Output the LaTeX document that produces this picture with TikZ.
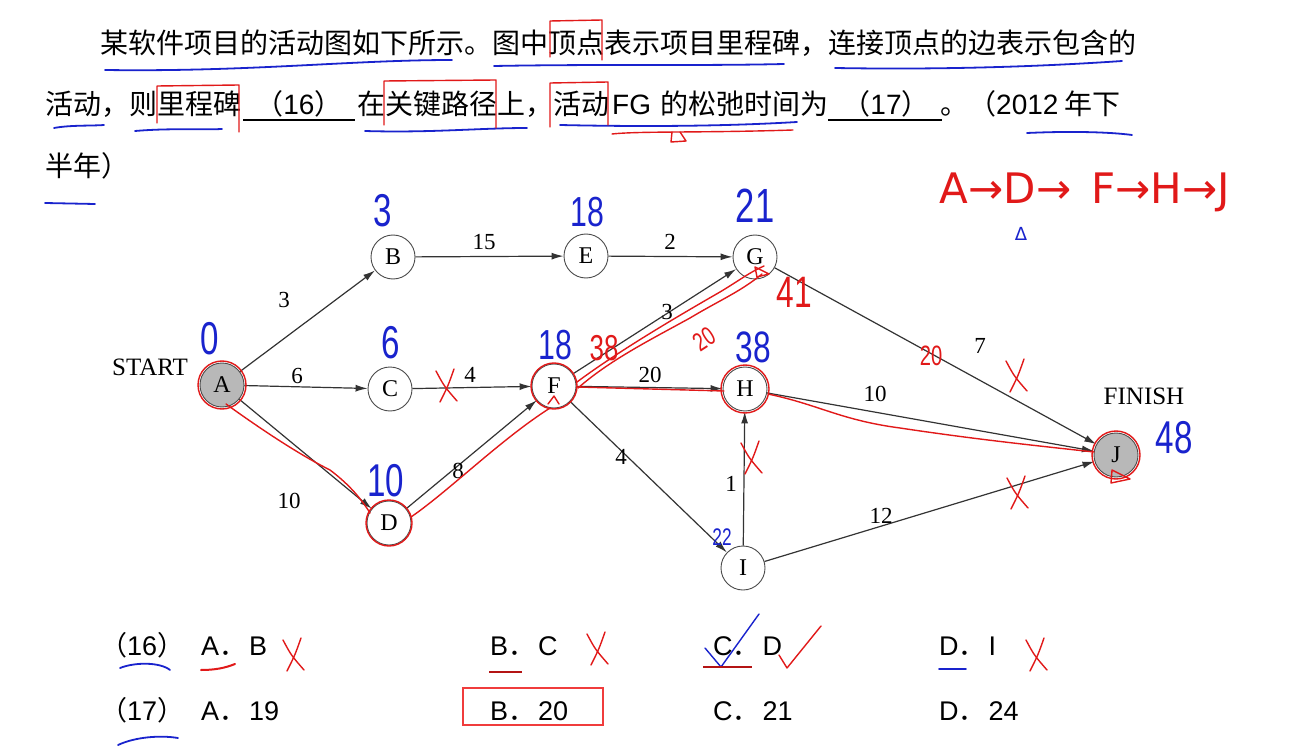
\documentclass[tikz,border=0pt]{standalone}
\usepackage{fontspec}
\setmainfont{Liberation Serif}
\newfontfamily\cjk{Noto Sans CJK SC}
\newfontfamily\arial{Liberation Sans}
\newfontfamily\dejav{DejaVu Sans}
\usetikzlibrary{arrows.meta}
\definecolor{hblue}{RGB}{25,35,205}
\definecolor{hred}{RGB}{225,25,25}
\definecolor{boxred}{RGB}{240,60,60}
\newcommand\hwtext[1]{\scalebox{0.72}[1]{#1}}
\begin{document}
\begin{tikzpicture}[x=1pt,y=-1pt,
  ms/.style={circle,draw=black!70,line width=0.9pt,minimum size=44pt,inner sep=0pt,font=\fontsize{24}{24}\selectfont},
  msg/.style={ms,fill=black!28},
  edge/.style={draw=black!80,line width=1.2pt,-{Latex[length=12pt,width=7pt]}},
  elab/.style={inner sep=0pt,font=\fontsize{23}{23}\selectfont},
  qtext/.style={anchor=base west,inner sep=0pt,font=\cjk\fontsize{28}{28}\selectfont},
  opt/.style={anchor=base west,inner sep=0pt,font=\arial\fontsize{27}{27}\selectfont},
  hb/.style={text=hblue,inner sep=0pt,font=\arial\fontsize{#1}{#1}\selectfont},
  hr/.style={text=hred,inner sep=0pt,font=\arial\fontsize{#1}{#1}\selectfont},
  rline/.style={draw=hred,line width=1.4pt,line cap=round,line join=round},
  bline/.style={draw=hblue,line width=1.8pt,line cap=round},
  xmark/.pic={\draw[rline] (-10,-15) .. controls (-2,0) .. (11,15); \draw[rline] (8,-17) .. controls (2,0) .. (-6,16);},
]
\useasboundingbox (0,0) rectangle (1296,746);
\fill[white] (0,0) rectangle (1296,746);

% ---------- question text ----------
\node[qtext] (q1) at (100,54) {某软件项目的活动图如下所示。图中顶点表示项目里程碑，连接顶点的边表示包含的};
\node[qtext] (q2a) at (45,115) {活动，则里程碑};
\node[qtext,anchor=base] (q2b) at (299,115) {（{\arial 16}）};
\node[qtext] (q2c) at (357,115) {在关键路径上，活动};
\node[qtext] (q2d) at (612,115) {{\arial FG}};
\node[qtext] (q2e) at (660,115) {的松弛时间为};
\node[qtext,anchor=base] (q2f) at (886,115) {（{\arial 17}）};
\node[qtext] (q2g) at (940,115) {。（{\arial 2012} 年下};
\node[qtext] (q3) at (45,177) {半年）};
\coordinate (u1a) at (243,120); \coordinate (u1b) at (355,120);
\coordinate (u2a) at (828,120); \coordinate (u2b) at (942,120);
\draw[line width=1.6pt] (u1a) -- (u1b);
\draw[line width=1.6pt] (u2a) -- (u2b);

% ---------- graph ----------
\node[msg] (A) at (222,385) {A};
\node[ms] (B) at (393,257) {B};
\node[ms] (C) at (390,389) {C};
\node[ms] (D) at (389,523) {D};
\node[ms] (E) at (586,256) {E};
\node[ms] (F) at (554,386) {F};
\node[ms] (G) at (755,257) {G};
\node[ms] (H) at (745,389) {H};
\node[ms] (I) at (743,568) {I};
\node[msg] (J) at (1116,455) {J};
\node[elab,font=\fontsize{25}{25}\selectfont] (start) at (150,367) {START};
\node[elab,font=\fontsize{25}{25}\selectfont] (finish) at (1144,396) {FINISH};

\draw[edge] (A) -- (B);
\draw[edge] (A) -- (C);
\draw[edge] (A) -- (D);
\draw[edge] (B) -- (E);
\draw[edge] (C) -- (F);
\draw[edge] (D) -- (F);
\draw[edge] (E) -- (G);
\draw[edge] (F) -- (G);
\draw[edge] (F) -- (H);
\draw[edge] (F) -- (I);
\draw[edge] (G) -- (J);
\draw[edge] (H) -- (J);
\draw[edge] (I) -- (H);
\draw[edge] (I) -- (J);

\node[elab] (lab) at (284,300) {3};
\node[elab] (lac) at (297,376) {6};
\node[elab] (lad) at (289,501) {10};
\node[elab] (lbe) at (484,242) {15};
\node[elab] (lcf) at (470,375) {4};
\node[elab] (ldf) at (458,471) {8};
\node[elab] (leg) at (670,242) {2};
\node[elab] (lfg) at (667,312) {3};
\node[elab] (lfh) at (650,375) {20};
\node[elab] (lfi) at (621,457) {4};
\node[elab] (lgj) at (980,346) {7};
\node[elab] (lhj) at (875,394) {10};
\node[elab] (lih) at (731,484) {1};
\node[elab] (lij) at (881,516) {12};

% ---------- handwritten blue numbers ----------
\node[hb=46] (nA) at (210,339) {\hwtext{0}};
\node[hb=46] (nB) at (383,211) {\hwtext{3}};
\node[hb=42] (nE) at (587,212) {\hwtext{18}};
\node[hb=48] (nG) at (755,206) {\hwtext{21}};
\node[hb=46] (nC) at (391,343) {\hwtext{6}};
\node[hb=42] (nF) at (555,345) {\hwtext{18}};
\node[hb=44] (nH) at (753,347) {\hwtext{38}};
\node[hb=46] (nD) at (386,481) {\hwtext{10}};
\node[hb=24] (nI) at (722,537) {\hwtext{22}};
\node[hb=46] (nJ) at (1174,438) {\hwtext{48}};
\node[text=hblue,inner sep=0pt,font=\dejav\fontsize{18}{18}\selectfont] (delta1) at (1021,234) {Δ};

% ---------- handwritten red ----------
\node[hr=36] (rF) at (604,348) {\hwtext{38}};
\node[hr=26,rotate=33] (rFG) at (704,339) {\hwtext{20}};
\node[hr=44] (rG) at (794,292) {\hwtext{41}};
\node[hr=28] (rGJ) at (931,356) {\hwtext{20}};
\node[text=hred,inner sep=0pt,font=\dejav\fontsize{42}{42}\selectfont] (path) at (1085,192) {A→D→\, F→H→J};

\draw[rline] (A) circle[radius=24];
\draw[rline] (D) circle[radius=23];
\draw[rline] (F) circle[radius=23];
\draw[rline] (H) circle[radius=24];
\draw[rline] (J) circle[radius=24];

\draw[rline] (226,404) .. controls (262,430) and (300,455) .. (330,470) .. controls (350,485) and (362,500) .. (370,513);
\draw[rline] (411,517) .. controls (450,490) and (500,440) .. (550,408);
\draw[rline] (577,387) -- (724,391);
\draw[rline] (768,394) .. controls (820,405) and (840,420) .. (900,428) .. controls (980,440) and (1040,446) .. (1094,452);
\draw[rline] (577,382) .. controls (620,350) and (680,315) .. (720,292) .. controls (740,280) and (750,272) .. (764,266);
\draw[rline] (762,274) .. controls (740,292) and (720,300) .. (690,318) .. controls (650,340) and (610,360) .. (578,388);
\draw[rline] (755,267) -- (769,274) -- (757,277) -- cycle;
\draw[rline] (1112,470) -- (1130,479) -- (1111,483) -- cycle;
\draw[rline] (548,404) -- (554,396) -- (559,404);

\pic at (446,386) {xmark};
\pic at (1016,376) {xmark};
\pic at (751,458) {xmark};
\pic at (1017,493) {xmark};

% ---------- underlines / brackets on question ----------
\draw[bline] (105,70) .. controls (250,72) and (350,60) .. (452,60);
\draw[bline] (494,66) .. controls (600,64) and (700,66) .. (784,64);
\draw[bline] (835,68) .. controls (950,70) and (1050,66) .. (1122,61);
\draw[bline] (54,128) .. controls (70,125) and (90,126) .. (104,125);
\draw[bline] (135,131) .. controls (170,128) and (200,130) .. (222,129);
\draw[bline] (365,131) .. controls (430,133) and (480,128) .. (527,128);
\draw[bline] (560,125) .. controls (650,127) and (730,126) .. (797,122);
\draw[bline] (1027,133) .. controls (1070,131) and (1110,132) .. (1132,135);
\draw[bline] (45,203) -- (95,204);
\draw[rline] (550,57) -- (550,21) -- (602,20) -- (602,60);
\draw[rline] (157,123) -- (157,86) -- (239,85) -- (239,132);
\draw[rline] (384,125) -- (384,81) -- (496,80) -- (496,128);
\draw[rline] (550,127) -- (550,83) -- (608,82) -- (608,125);
\draw[rline] (612,134) .. controls (640,131) and (700,133) .. (793,130);
\draw[rline] (672,132) -- (671,142) -- (686,141) -- (680,132);

% ---------- options ----------
\node[opt] (o16) at (100,655) {{\cjk （}16{\cjk ）}};
\node[opt] (o16a) at (201,655) {A{\cjk ．}\hspace{3pt}B};
\node[opt] (o16b) at (490,655) {B{\cjk ．}\hspace{3pt}C};
\node[opt] (o16c) at (713,655) {C{\cjk ．}\hspace{3pt}D};
\node[opt] (o16d) at (939,655) {D{\cjk ．}\hspace{3pt}I};
\node[opt] (o17) at (100,720) {{\cjk （}17{\cjk ）}};
\node[opt] (o17a) at (201,720) {A{\cjk ．}\hspace{3pt}19};
\node[opt] (o17b) at (490,720) {B{\cjk ．}\hspace{3pt}20};
\node[opt] (o17c) at (713,720) {C{\cjk ．}\hspace{3pt}21};
\node[opt] (o17d) at (939,720) {D{\cjk ．}\hspace{3pt}24};
\draw[draw=boxred,line width=2pt] (463,688) rectangle (603,725);

\pic at (293,655) {xmark};
\pic at (597,649) {xmark};
\pic at (1036,655) {xmark};
\draw[rline] (779,655) -- (787,668) -- (821,626);
\draw[draw=hblue,line width=1.4pt,line cap=round,line join=round] (705,648) -- (721,667) -- (759,614);
\draw[bline] (120,668) .. controls (135,662) and (160,662) .. (170,670);
\draw[rline,line width=2pt] (201,670) .. controls (215,670) and (225,668) .. (235,664);
\draw[draw=hred!80!black,line width=2.5pt] (489,672) -- (522,672);
\draw[draw=hred!80!black,line width=2.5pt] (703,667) -- (752,667);
\draw[bline] (939,669) -- (966,669);
\draw[bline] (118,745) .. controls (135,737) and (160,735) .. (178,738);
\end{tikzpicture}
\end{document}
